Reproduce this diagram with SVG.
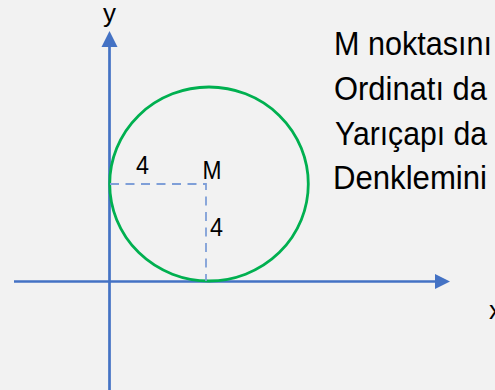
<svg xmlns="http://www.w3.org/2000/svg" width="495" height="390" viewBox="0 0 495 390">
  <defs>
    <style>
      .axis { stroke: #4472c4; stroke-width: 2.7; fill: none; }
      .head { fill: #4472c4; stroke: none; }
      .dash { stroke: #7f9fd8; stroke-width: 1.8; stroke-dasharray: 9 6.5; fill: none; }
      .circ { stroke: #00b050; stroke-width: 2.8; fill: none; }
      .lbl { font-family: "Liberation Sans", Arial, sans-serif; font-size: 26px; fill: #000; }
      .txt { font-family: "Liberation Sans", Arial, sans-serif; font-size: 34px; fill: #000; }
    </style>
  </defs>
  <rect x="0" y="0" width="495" height="390" fill="#f2f2f2"/>
  <g id="axes">
    <g id="x-axis">
      <line class="axis" x1="14" y1="281.5" x2="437" y2="281.5"/>
      <polygon class="head" points="450,281.5 435,274 435,289"/>
    </g>
    <g id="y-axis">
      <line class="axis" x1="109.5" y1="390" x2="109.5" y2="45"/>
      <polygon class="head" points="109.5,31 101.5,47 117.5,47"/>
    </g>
  </g>
  <g id="circle">
    <ellipse class="circ" cx="209" cy="184" rx="99.3" ry="97"/>
  </g>
  <g id="radii">
    <path class="dash" d="M110,184 H206 V281"/>
  </g>
  <g id="labels">
    <text class="lbl" x="109.5" y="21.5" text-anchor="middle" font-size="25">y</text>
    <text class="lbl" x="489" y="319" font-size="22">x</text>
    <text class="lbl" x="136" y="174" textLength="13" lengthAdjust="spacingAndGlyphs">4</text>
    <text class="lbl" x="202.6" y="179" textLength="19" lengthAdjust="spacingAndGlyphs">M</text>
    <text class="lbl" x="210" y="235.5" textLength="13" lengthAdjust="spacingAndGlyphs">4</text>
  </g>
  <g id="statement">
    <text class="txt" x="334" y="55" textLength="158" lengthAdjust="spacingAndGlyphs">M noktasını</text>
    <text class="txt" x="334" y="100" textLength="153" lengthAdjust="spacingAndGlyphs">Ordinatı da</text>
    <text class="txt" x="335" y="145" textLength="152" lengthAdjust="spacingAndGlyphs">Yarıçapı da</text>
    <text class="txt" x="333" y="189" textLength="154" lengthAdjust="spacingAndGlyphs">Denklemini</text>
  </g>
</svg>
